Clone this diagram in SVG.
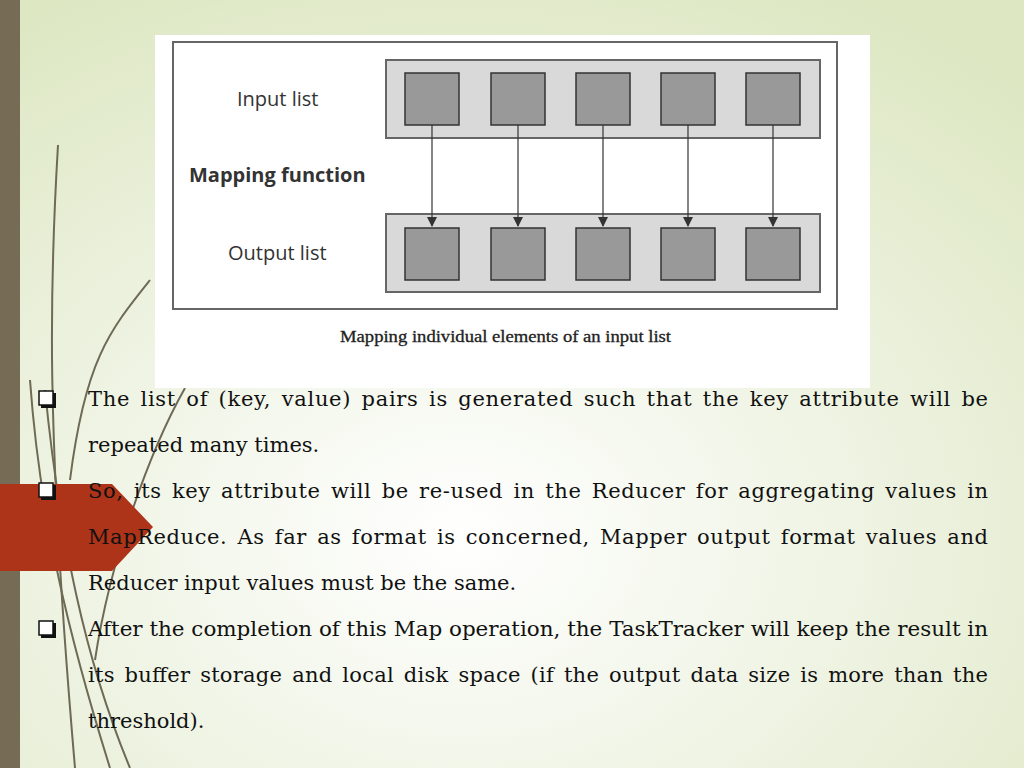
<svg xmlns="http://www.w3.org/2000/svg" width="1024" height="768" viewBox="0 0 1024 768">
<defs>
<radialGradient id="bg" cx="0.45" cy="0.7" r="0.8">
<stop offset="0" stop-color="#ffffff"/><stop offset="0.5" stop-color="#eef3e2"/><stop offset="1" stop-color="#dde7c2"/>
</radialGradient>
<marker id="ah" markerWidth="10" markerHeight="10" refX="9" refY="5" orient="auto" markerUnits="userSpaceOnUse"><path d="M0,0 L10,5 L0,10 z" fill="#333"/></marker>
<style>
.t{font-family:"DejaVu Serif",serif;font-size:21px;fill:#111}
.band{fill:#d9d9d9;stroke:#666;stroke-width:2}
.sq{fill:#999;stroke:#333;stroke-width:1.5}
.lab{font-family:"Open Sans",sans-serif;font-size:20px;fill:#333}
.ar{stroke:#333;stroke-width:1.2;marker-end:url(#ah)}
.cv{fill:none;stroke:#6e6a55;stroke-width:2}
.bx{fill:#fff;stroke:#111;stroke-width:1.5}
.sh{fill:#111}
</style>
</defs>
<rect width="1024" height="768" fill="url(#bg)"/>
<g id="decor">
<path class="cv" d="M30,380 C40,520 70,640 110,768" stroke-width="2.5"/>
<path class="cv" d="M45,390 C60,540 85,660 130,768"/>
<path class="cv" d="M58,145 C50,280 45,420 75,768" stroke="#b9bda0" stroke-width="1.5"/>
<path class="cv" d="M150,280 C110,330 85,360 70,480" stroke="#b9bda0" stroke-width="1.5"/>
<path class="cv" d="M185,388 C150,450 110,560 95,660" stroke="#444" stroke-width="1"/>
<rect x="0" y="0" width="20" height="768" fill="#766b55"/>
<polygon points="0,484 112,484 153,527 112,571 0,571" fill="#ad3419"/>
</g>
<g id="figure">
<rect x="155" y="35" width="715" height="353" fill="#fff"/>
<rect x="173" y="42" width="664" height="267" fill="none" stroke="#666" stroke-width="2"/>
<text class="lab" x="237" y="106">Input list</text>
<text class="lab" x="189" y="182" font-weight="bold">Mapping function</text>
<text class="lab" x="228" y="260">Output list</text>
<text x="340" y="342" textLength="331" lengthAdjust="spacingAndGlyphs" font-family="Liberation Serif,serif" font-size="16" fill="#222" stroke="#222" stroke-width="0.3">Mapping individual elements of an input list</text>
</g>
<g id="input-list">
<rect class="band" x="386" y="60" width="434" height="78"/>
<rect class="sq" x="405" y="73" width="54" height="52"/><rect class="sq" x="491" y="73" width="54" height="52"/><rect class="sq" x="576" y="73" width="54" height="52"/><rect class="sq" x="661" y="73" width="54" height="52"/><rect class="sq" x="746" y="73" width="54" height="52"/>
</g>
<g id="output-list">
<rect class="band" x="386" y="214" width="434" height="78"/>
<rect class="sq" x="405" y="228" width="54" height="52"/><rect class="sq" x="491" y="228" width="54" height="52"/><rect class="sq" x="576" y="228" width="54" height="52"/><rect class="sq" x="661" y="228" width="54" height="52"/><rect class="sq" x="746" y="228" width="54" height="52"/>
</g>
<g id="connectors">
<line class="ar" x1="432" y1="125" x2="432" y2="226"/><line class="ar" x1="518" y1="125" x2="518" y2="226"/><line class="ar" x1="603" y1="125" x2="603" y2="226"/><line class="ar" x1="688" y1="125" x2="688" y2="226"/><line class="ar" x1="773" y1="125" x2="773" y2="226"/>
</g>
<g id="bullets">
<rect class="sh" x="41" y="393" width="15" height="15"/><rect class="bx" x="39" y="391" width="14" height="14"/>
<rect class="sh" x="41" y="485" width="15" height="15"/><rect class="bx" x="39" y="483" width="14" height="14"/>
<rect class="sh" x="41" y="623" width="15" height="15"/><rect class="bx" x="39" y="621" width="14" height="14"/>
</g>
<g id="text">
<text class="t" x="88" y="406" textLength="900" lengthAdjust="spacing" word-spacing="3">The list of (key, value) pairs is generated such that the key attribute will be</text>
<text class="t" x="88" y="452">repeated many times.</text>
<text class="t" x="88" y="498" textLength="900" lengthAdjust="spacing" word-spacing="3">So, its key attribute will be re-used in the Reducer for aggregating values in</text>
<text class="t" x="88" y="544" textLength="900" lengthAdjust="spacing" word-spacing="3">MapReduce. As far as format is concerned, Mapper output format values and</text>
<text class="t" x="88" y="590">Reducer input values must be the same.</text>
<text class="t" x="88" y="636" textLength="900" lengthAdjust="spacingAndGlyphs">After the completion of this Map operation, the TaskTracker will keep the result in</text>
<text class="t" x="88" y="682" textLength="900" lengthAdjust="spacing" word-spacing="3">its buffer storage and local disk space (if the output data size is more than the</text>
<text class="t" x="88" y="728">threshold).</text>
</g>
</svg>
